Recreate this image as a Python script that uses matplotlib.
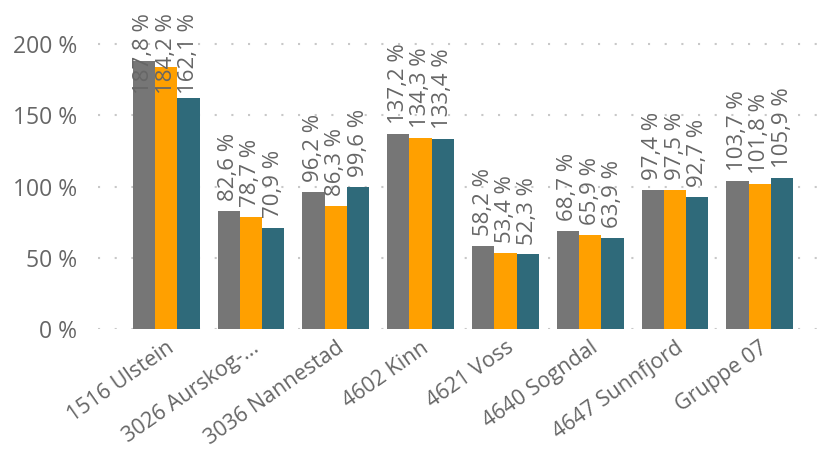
import matplotlib.pyplot as plt
import matplotlib.transforms as mtransforms
import numpy as np

plt.rcParams['font.family'] = ['Open Sans', 'DejaVu Sans']

categories = ["1516 Ulstein", "3026 Aurskog-...", "3036 Nannestad", "4602 Kinn",
              "4621 Voss", "4640 Sogndal", "4647 Sunnfjord", "Gruppe 07"]
serie_1 = [187.8, 82.6, 96.2, 137.2, 58.2, 68.7, 97.4, 103.7]
serie_2 = [184.2, 78.7, 86.3, 134.3, 53.4, 65.9, 97.5, 101.8]
serie_3 = [162.1, 70.9, 99.6, 133.4, 52.3, 63.9, 92.7, 105.9]
yticks = [0, 50, 100, 150, 200]

colors = ["#767676", "#FFA000", "#2F6A7A"]
text_color = "#666666"

fig = plt.figure(figsize=(8.26, 4.51), dpi=100)
ax = fig.add_axes([0.119, 0.2705, 0.881, 0.695])

x = np.arange(len(categories))
w = 0.263
for i, (vals, c) in enumerate(zip([serie_1, serie_2, serie_3], colors)):
    pos = x + (i - 1) * w
    ax.bar(pos, vals, width=w, color=c, zorder=2)
    for p, v in zip(pos, vals):
        y0 = min(v + 7, 165)
        ax.text(p, y0, f"{v:.1f} %".replace(".", ","), rotation=90,
                ha="center", va="bottom", fontsize=16, color=text_color,
                clip_on=False, zorder=3)

ax.set_xlim(-0.8, 7.78)
ax.set_ylim(0, 220)
ax.set_yticks(yticks)
ax.set_yticklabels([f"{t} %" for t in yticks], fontsize=16.5, color=text_color)
ax.set_xticks(x)
ax.set_xticklabels(categories, rotation=35, ha="right", rotation_mode="anchor",
                   fontsize=15.5, color=text_color)
# shift x labels a bit to the left, like the original
shift = mtransforms.ScaledTranslation(-0.08, 0, fig.dpi_scale_trans)
for lab in ax.get_xticklabels():
    lab.set_transform(lab.get_transform() + shift)
ax.tick_params(axis="both", length=0)
ax.tick_params(axis="y", pad=15)
ax.tick_params(axis="x", pad=6)
for s in ax.spines.values():
    s.set_visible(False)
ax.grid(axis="y", color="#C8C8C8", linestyle=(0, (1, 7)), linewidth=1.5, zorder=1)

plt.savefig("out.png", dpi=100)
